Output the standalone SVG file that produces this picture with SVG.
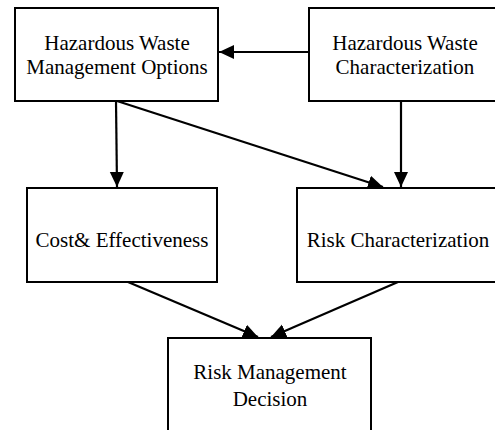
<svg xmlns="http://www.w3.org/2000/svg" width="495" height="430" viewBox="0 0 495 430">
<style>
.box{fill:#fff;stroke:#000;stroke-width:2}
.lbl{font-family:"Liberation Serif","Times New Roman",serif;font-size:21px;fill:#000;text-anchor:middle}
.con{stroke:#000;stroke-width:2.2;fill:none;marker-end:url(#ah)}
</style>
<defs>
<marker id="ah" markerUnits="userSpaceOnUse" markerWidth="16" markerHeight="16" viewBox="0 0 16 16" refX="15" refY="8" orient="auto">
<path d="M0,1 L15,8 L0,15 Z" fill="#000"/>
</marker>
</defs>
<rect width="495" height="430" fill="#fff"/>
<g id="n1"><rect class="box" x="15" y="8" width="203" height="93"/>
<text class="lbl" x="117" y="50">Hazardous Waste</text>
<text class="lbl" x="117" y="74">Management Options</text></g>
<g id="n2"><rect class="box" x="309" y="8" width="200" height="93"/>
<text class="lbl" x="405" y="50">Hazardous Waste</text>
<text class="lbl" x="405" y="74">Characterization</text></g>
<g id="n3"><rect class="box" x="27" y="188" width="190" height="94"/>
<text class="lbl" x="122" y="247">Cost&amp; Effectiveness</text></g>
<g id="n4"><rect class="box" x="297" y="188" width="210" height="94"/>
<text class="lbl" x="398" y="247">Risk Characterization</text></g>
<g id="n5"><rect class="box" x="168" y="338" width="203" height="110"/>
<text class="lbl" x="270" y="379">Risk Management</text>
<text class="lbl" x="270" y="406">Decision</text></g>
<g id="connectors">
<line class="con" x1="309" y1="52" x2="219" y2="52"/>
<line class="con" x1="116" y1="101" x2="117" y2="187"/>
<line class="con" x1="117" y1="101" x2="383" y2="187"/>
<line class="con" x1="401" y1="101" x2="401" y2="187"/>
<line class="con" x1="128" y1="282" x2="258" y2="337"/>
<line class="con" x1="398" y1="282" x2="271" y2="337"/>
</g>
</svg>
